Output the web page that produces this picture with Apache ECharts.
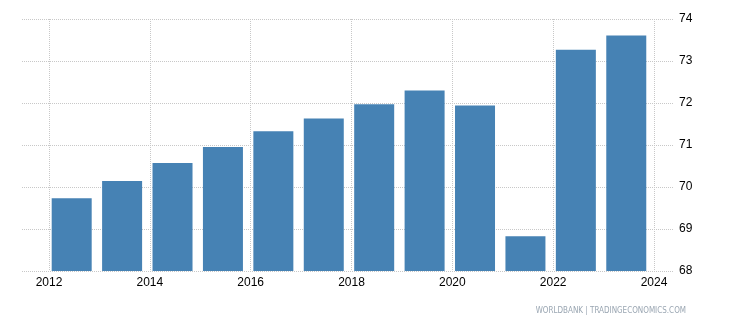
<!DOCTYPE html>
<html>
<head>
<meta charset="utf-8">
<script src="https://cdn.jsdelivr.net/npm/echarts@6/dist/echarts.min.js"></script>
<style>
html,body{margin:0;padding:0;background:#fff;}
#c{width:730px;height:325px;}
</style>
</head>
<body>
<div id="c"></div>
<script>
var years = [2012, 2013, 2014, 2015, 2016, 2017, 2018, 2019, 2020, 2021, 2022, 2023];
var values = [69.73, 70.14, 70.57, 70.95, 71.33, 71.63, 71.97, 72.30, 71.94, 68.83, 73.27, 73.61];
var yTicks = [68, 69, 70, 71, 72, 73, 74];
var xTicks = [2012, 2014, 2016, 2018, 2020, 2022, 2024];
var source = 'WORLDBANK | TRADINGECONOMICS.COM';

var barOffset = 0.45;
var chart = echarts.init(document.getElementById('c'), null, {renderer: 'canvas'});
var font = 'Liberation Sans, Arial, sans-serif';
var gridLine = {show: true, lineStyle: {color: '#c8c8c8', type: [1, 1], width: 1}};
chart.setOption({
  animation: false,
  backgroundColor: '#ffffff',
  grid: [
    {left: 22, right: 56, top: 19, bottom: 54},
    {left: 49, right: 76, top: 19, bottom: 54}
  ],
  xAxis: [
    {gridIndex: 0, type: 'value', min: 0, max: 1, show: false},
    {gridIndex: 1, type: 'value', min: xTicks[0], max: xTicks[xTicks.length - 1], interval: 2,
      axisLine: {show: false}, axisTick: {show: false},
      splitLine: gridLine,
      axisLabel: {color: '#000', fontFamily: font, fontSize: 12, margin: 6, showMinLabel: true, showMaxLabel: true,
        formatter: function (v) { return String(v); }}
    }
  ],
  yAxis: [
    {gridIndex: 0, type: 'value', position: 'right', min: yTicks[0], max: yTicks[yTicks.length - 1], interval: 1,
      axisLine: {show: false}, axisTick: {show: false},
      splitLine: gridLine,
      axisLabel: {color: '#000', fontFamily: font, fontSize: 12, margin: 5}
    },
    {gridIndex: 1, type: 'value', min: yTicks[0], max: yTicks[yTicks.length - 1], interval: 1, show: false}
  ],
  series: [{
    type: 'bar',
    xAxisIndex: 1,
    yAxisIndex: 1,
    barWidth: 40,
    itemStyle: {color: '#4682b4'},
    data: years.map(function (y, i) { return [y + barOffset, values[i]]; })
  }],
  graphic: [{
    type: 'text',
    right: 44,
    top: 307,
    style: {text: source, fill: '#9aa6b2', font: '8px "Liberation Sans Narrow", "DejaVu Sans Condensed", Arial, sans-serif'}
  }]
});
</script>
</body>
</html>
